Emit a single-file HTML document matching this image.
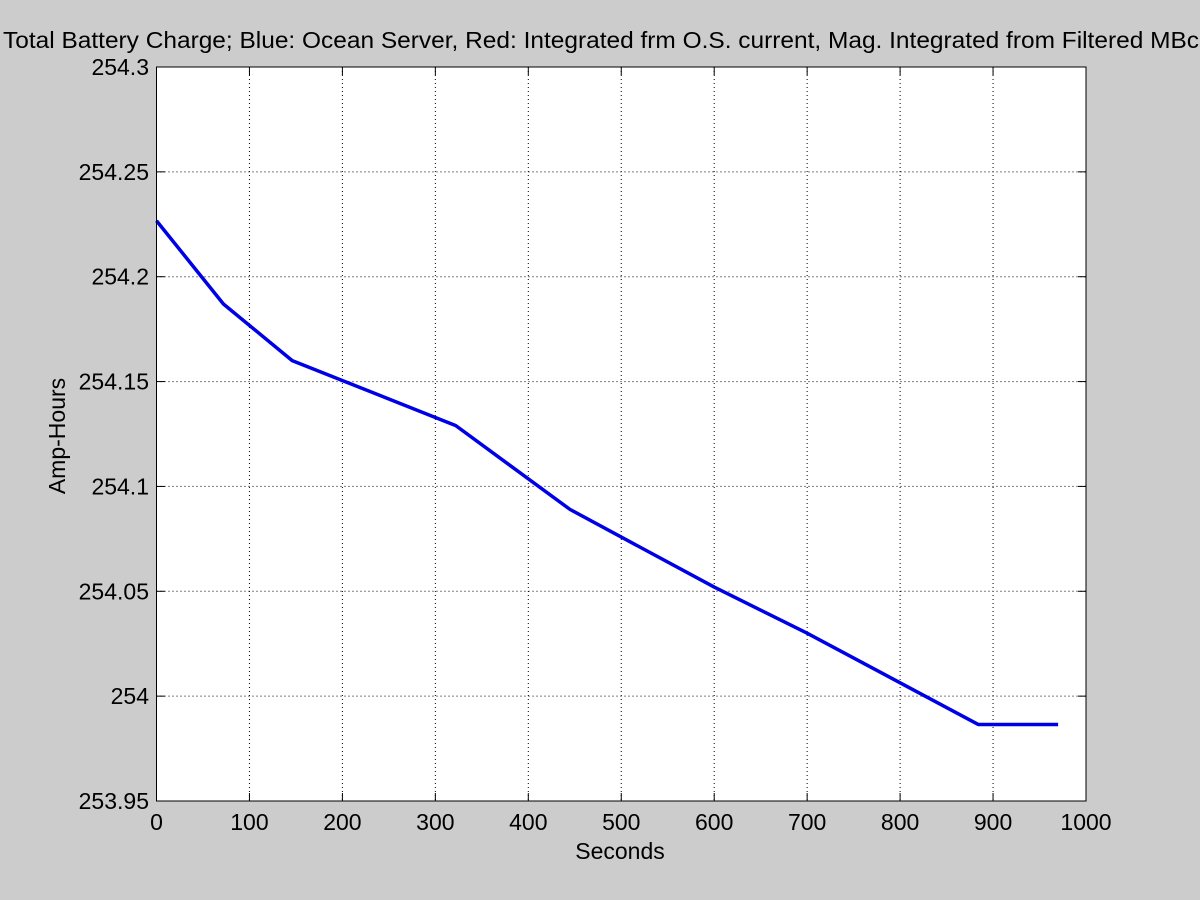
<!DOCTYPE html>
<html><head><meta charset="utf-8"><style>
body{margin:0;background:#cccccc;}
svg{display:block;font-family:"Liberation Sans",Arial,sans-serif;}
</style></head><body>
<svg width="1200" height="900" xmlns="http://www.w3.org/2000/svg">
<rect x="0" y="0" width="1200" height="900" fill="#cccccc"/>
<rect x="156.5" y="67" width="929.5" height="734" fill="#ffffff"/>
<g id="grid"></g>
<g id="ticks"></g>
<polyline id="series" fill="none" stroke="#0000e6" stroke-width="3.5" stroke-linejoin="round"/>
<rect x="156.5" y="67" width="929.5" height="734" fill="none" stroke="#000" stroke-width="1"/>
<text x="3" y="48" font-size="23" textLength="1196" lengthAdjust="spacingAndGlyphs">Total Battery Charge; Blue: Ocean Server, Red: Integrated frm O.S. current, Mag. Integrated from Filtered MBc</text>
<text x="620" y="859" font-size="23" text-anchor="middle">Seconds</text>
<text transform="translate(65,436) rotate(-90)" font-size="23" text-anchor="middle">Amp-Hours</text>
</svg>
<script>
const seconds=[0,72,146,322,445,600,700,884,970];
const ampHours=[254.2267,254.187,254.160,254.129,254.089,254.052,254.030,253.9865,253.9865];
const xTicks=[0,100,200,300,400,500,600,700,800,900,1000];
const yTicks=[253.95,254,254.05,254.1,254.15,254.2,254.25,254.3];
const yTickLabels=["253.95","254","254.05","254.1","254.15","254.2","254.25","254.3"];
const L=156.5,R=1086,T=67,B=801;
function sx(v){return L+(v-0)/(1000-0)*(R-L);}
function sy(v){return B-(v-253.95)/(254.3-253.95)*(B-T);}
const NS="http://www.w3.org/2000/svg";
const grid=document.getElementById('grid'),ticks=document.getElementById('ticks');
function mk(tag,attrs,parent){const e=document.createElementNS(NS,tag);for(const k in attrs)e.setAttribute(k,attrs[k]);parent.appendChild(e);return e;}
xTicks.forEach(v=>{const x=sx(v);
 if(v>0&&v<1000){const g=mk('line',{x1:x,x2:x,y1:T,y2:B,stroke:'#000','stroke-width':1,'stroke-dasharray':'1,3'},grid);
 
 }
 const t1=mk('line',{x1:x,x2:x,y1:B,y2:B-8,stroke:'#000'},ticks);
 
 
 const t2=mk('line',{x1:x,x2:x,y1:T,y2:T+8,stroke:'#000'},ticks);
 
 
 const tx=mk('text',{x:x,y:830,'font-size':23,'text-anchor':'middle'},ticks);tx.textContent=v;
 
 
});
yTicks.forEach((v,i)=>{const y=sy(v);
 if(i>0&&i<yTicks.length-1){const g=mk('line',{x1:L,x2:R,y1:y,y2:y,stroke:'#000','stroke-width':1,'stroke-dasharray':'1,3'},grid);
 
 }
 const t1=mk('line',{x1:L,x2:L+8,y1:y,y2:y,stroke:'#000'},ticks);
 
 
 const t2=mk('line',{x1:R,x2:R-8,y1:y,y2:y,stroke:'#000'},ticks);
 
 
 const tx=mk('text',{x:149,y:y+8,'font-size':23,'text-anchor':'end'},ticks);tx.textContent=yTickLabels[i];
 
 
});
document.getElementById('series').setAttribute('points',seconds.map((s,i)=>sx(s)+','+sy(ampHours[i])).join(' '));
</script>
</body></html>
